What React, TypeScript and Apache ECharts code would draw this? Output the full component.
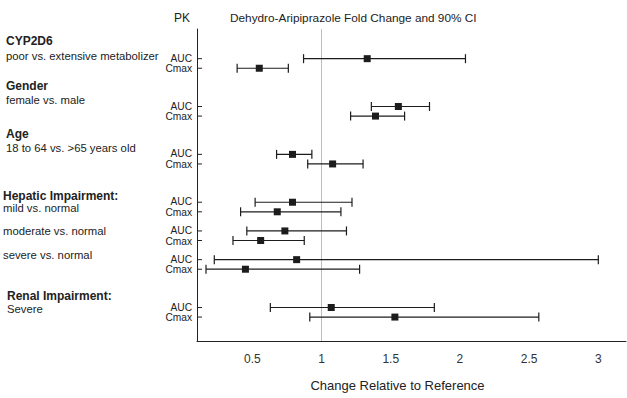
import React, { useEffect, useRef } from "react";
import * as echarts from "echarts";

// Row slots on the y axis (blank slots are gaps between groups)
const rowLabels = [
  "AUC", "Cmax", "", "", "",
  "AUC", "Cmax", "", "", "",
  "AUC", "Cmax", "", "", "",
  "AUC", "Cmax", "",
  "AUC", "Cmax", "",
  "AUC", "Cmax", "", "", "",
  "AUC", "Cmax",
];

// Point estimates and 90% CI, in order of non-blank rows
const estimate = [1.33, 0.55, 1.555, 1.39, 0.79, 1.08, 0.79, 0.68, 0.735, 0.56, 0.82, 0.45, 1.07, 1.53];
const lower = [0.87, 0.39, 1.36, 1.21, 0.675, 0.90, 0.52, 0.415, 0.46, 0.36, 0.225, 0.165, 0.63, 0.915];
const upper = [2.04, 0.76, 1.78, 1.60, 0.93, 1.30, 1.22, 1.14, 1.18, 0.875, 3.0, 1.275, 1.815, 2.57];

const xTicks = [0.5, 1, 1.5, 2, 2.5, 3];
const xMin = 0.1;
const xMax = 3.2;

const groupHeadings = [
  { title: "CYP2D6", sub: "poor vs. extensive metabolizer" },
  { title: "Gender", sub: "female vs. male" },
  { title: "Age", sub: "18 to 64 vs. >65 years old" },
  { title: "Hepatic Impairment:", sub: "mild vs. normal" },
  { title: "", sub: "moderate vs. normal" },
  { title: "", sub: "severe vs. normal" },
  { title: "Renal Impairment:", sub: "Severe" },
];

const FONT = '"Liberation Sans", Arial, Helvetica, sans-serif';

export default function App() {
  const ref = useRef<HTMLDivElement>(null);
  useEffect(() => {
    if (!ref.current) return;
    const chart = echarts.init(ref.current, null, { renderer: "svg" });

    const rowIdx: number[] = [];
    rowLabels.forEach((l, i) => {
      if (l) rowIdx.push(i);
    });
    const data = rowIdx.map((r, k) => [r, lower[k], estimate[k], upper[k]]);

    const headingPos = [
      { x: 6, tY: 42, sY: 57 },
      { x: 6, tY: 87, sY: 101 },
      { x: 6, tY: 135, sY: 149 },
      { x: 3, tY: 197, sY: 209 },
      { x: 3, tY: 0, sY: 232 },
      { x: 3, tY: 0, sY: 256 },
      { x: 7, tY: 297, sY: 310 },
    ];
    const graphics: any[] = [
      { type: "text", left: 174, top: 12, style: { text: "PK", font: `12px ${FONT}`, fill: "#222" } },
      {
        type: "text",
        left: 230,
        top: 12,
        style: { text: "Dehydro-Aripiprazole Fold Change and 90% CI", font: `11.8px ${FONT}`, fill: "#222" },
      },
    ];
    groupHeadings.forEach((g, i) => {
      const p = headingPos[i];
      if (g.title)
        graphics.push({
          type: "text",
          left: p.x,
          top: p.tY - 7,
          style: { text: g.title, font: `bold 12px ${FONT}`, fill: "#222" },
        });
      graphics.push({
        type: "text",
        left: p.x,
        top: p.sY - 7,
        style: { text: g.sub, font: `11.3px ${FONT}`, fill: "#222" },
      });
    });

    const ink = "#1c1c1c";
    chart.setOption({
      animation: false,
      grid: { left: 197, right: 1, top: 29, bottom: 57 },
      graphic: graphics,
      xAxis: {
        type: "value",
        min: xMin,
        max: xMax,
        splitLine: { show: false },
        axisLine: { show: true, onZero: false, lineStyle: { color: "#222", width: 1 } },
        axisTick: { show: false, customValues: xTicks },
        axisLabel: {
          customValues: xTicks,
          color: "#333",
          fontFamily: FONT,
          fontSize: 12,
          margin: 12,
        },
        name: "Change Relative to Reference",
        nameLocation: "middle",
        nameGap: 38,
        nameTextStyle: { color: "#222", fontFamily: FONT, fontSize: 13, padding: [0, 28, 0, 0] },
      },
      yAxis: {
        type: "value",
        inverse: true,
        min: -3.1,
        max: 29.5,
        splitLine: { show: false },
        axisLine: { show: true, onZero: false, lineStyle: { color: "#222", width: 1 } },
        axisTick: { show: false },
        axisLabel: { show: false },
      },
      series: [
        {
          type: "line",
          data: [],
          z: 1,
          markLine: {
            silent: true,
            symbol: "none",
            label: { show: false },
            lineStyle: { color: "#bdbdbd", type: "solid", width: 1 },
            data: [{ xAxis: 1 }],
          },
        },
        {
          type: "custom",
          z: 5,
          clip: false,
          data,
          encode: { x: [1, 2, 3], y: 0 },
          renderItem: (_p: any, api: any) => {
            const y = api.value(0);
            const pAx = api.coord([xMin, y]);
            const pLo = api.coord([api.value(1), y]);
            const pE = api.coord([api.value(2), y]);
            const pHi = api.coord([api.value(3), y]);
            const h = 4.5;
            const sq = 7;
            const st = { stroke: ink, lineWidth: 1.2 };
            const lab = rowLabels[Math.round(y)];
            const nudge = lab === "AUC" ? -0.5 : 0.5;
            return {
              type: "group",
              children: [
                { type: "line", shape: { x1: pAx[0], y1: pAx[1], x2: pAx[0] + 5, y2: pAx[1] }, style: { stroke: "#222", lineWidth: 1 } },
                {
                  type: "text",
                  x: pAx[0] - 5,
                  y: pAx[1] + nudge,
                  style: {
                    text: lab,
                    font: `10.2px ${FONT}`,
                    lineHeight: 9,
                    fill: "#222",
                    align: "right",
                    verticalAlign: "middle",
                  },
                },
                { type: "line", shape: { x1: pLo[0], y1: pLo[1], x2: pHi[0], y2: pHi[1] }, style: st },
                { type: "line", shape: { x1: pLo[0], y1: pLo[1] - h, x2: pLo[0], y2: pLo[1] + h }, style: st },
                { type: "line", shape: { x1: pHi[0], y1: pHi[1] - h, x2: pHi[0], y2: pHi[1] + h }, style: st },
                { type: "rect", shape: { x: pE[0] - sq / 2, y: pE[1] - sq / 2, width: sq, height: sq }, style: { fill: ink } },
              ],
            };
          },
        },
      ],
    });
    return () => chart.dispose();
  }, []);
  return (
    <div
      ref={ref}
      style={{ position: "fixed", left: 0, top: 0, width: 627, height: 398, background: "#fff" }}
    />
  );
}
